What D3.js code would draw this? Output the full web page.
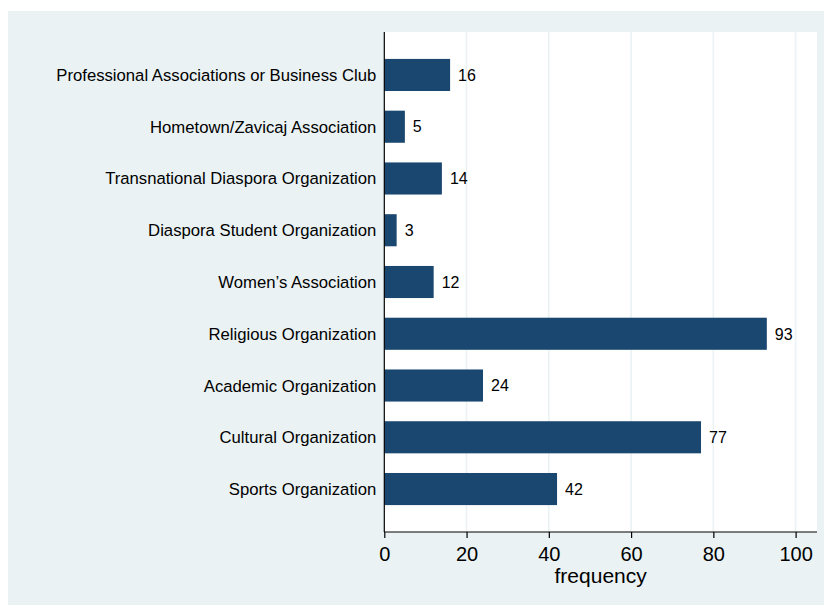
<!DOCTYPE html>
<html>
<head>
<meta charset="utf-8">
<script src="https://cdn.jsdelivr.net/npm/d3@7"></script>
<style>
  html, body { margin: 0; padding: 0; background: #ffffff; }
  svg { display: block; }
  text { font-family: "Liberation Sans", Arial, Helvetica, sans-serif; fill: #000; }
</style>
</head>
<body>
<svg id="chart" width="824" height="606"></svg>
<script>
// Membership frequency by organization type
const categories = [
  "Professional Associations or Business Club",
  "Hometown/Zavicaj Association",
  "Transnational Diaspora Organization",
  "Diaspora Student Organization",
  "Women\u2019s Association",
  "Religious Organization",
  "Academic Organization",
  "Cultural Organization",
  "Sports Organization"
];
const frequency = [16, 5, 14, 3, 12, 93, 24, 77, 42];
const xTicks = [0, 20, 40, 60, 80, 100];
const xTitle = "frequency";

const svg = d3.select("#chart");

const outer = { x0: 8, y0: 11, x1: 824, y1: 605 };
const plot = { left: 384.3, right: 817, top: 32, bottom: 532 };

const bgColor = "#eaf2f3";
const barColor = "#1a476f";

// outer graph region
svg.append("rect")
  .attr("x", outer.x0).attr("y", outer.y0)
  .attr("width", outer.x1 - outer.x0).attr("height", outer.y1 - outer.y0)
  .attr("fill", bgColor);

// plot region
svg.append("rect")
  .attr("x", plot.left).attr("y", plot.top)
  .attr("width", plot.right - plot.left).attr("height", plot.bottom - plot.top)
  .attr("fill", "#ffffff");

const x = d3.scaleLinear().domain([0, 105.2]).range([plot.left, plot.right]);
const y = d3.scaleBand().domain(categories).range([plot.top, plot.bottom])
  .paddingInner(0.38).paddingOuter(0.52);

// vertical grid lines
svg.append("g").selectAll("line")
  .data(xTicks.filter(d => d > 0))
  .join("line")
  .attr("x1", d => x(d)).attr("x2", d => x(d))
  .attr("y1", plot.top).attr("y2", plot.bottom)
  .attr("stroke", bgColor).attr("stroke-width", 1.6);

// bars
svg.append("g").selectAll("rect")
  .data(categories)
  .join("rect")
  .attr("x", x(0))
  .attr("y", d => y(d))
  .attr("width", (d, i) => x(frequency[i]) - x(0))
  .attr("height", y.bandwidth())
  .attr("fill", barColor);

// value labels
svg.append("g").selectAll("text")
  .data(categories)
  .join("text")
  .attr("x", (d, i) => x(frequency[i]) + 8)
  .attr("y", d => y(d) + y.bandwidth() / 2)
  .attr("dy", "0.36em")
  .attr("font-size", 16)
  .text((d, i) => frequency[i]);

// category labels
svg.append("g").selectAll("text")
  .data(categories)
  .join("text")
  .attr("x", plot.left - 8)
  .attr("y", d => y(d) + y.bandwidth() / 2)
  .attr("dy", "0.36em")
  .attr("text-anchor", "end")
  .attr("font-size", 16.7)
  .text(d => d);

// left axis line
svg.append("line")
  .attr("x1", plot.left).attr("x2", plot.left)
  .attr("y1", plot.top).attr("y2", plot.bottom)
  .attr("stroke", "#000").attr("stroke-width", 1.2);

// bottom axis
const xAxis = d3.axisBottom(x).tickValues(xTicks).tickSize(6).tickPadding(9);
const gx = svg.append("g")
  .attr("transform", `translate(0,${plot.bottom})`)
  .call(xAxis);
gx.select(".domain").remove();
gx.append("line")
  .attr("x1", plot.left).attr("x2", plot.right)
  .attr("y1", 0).attr("y2", 0)
  .attr("stroke", "#000").attr("stroke-width", 1.2);
gx.selectAll(".tick line").attr("stroke", "#000").attr("stroke-width", 1.2);
gx.selectAll(".tick text")
  .attr("font-size", 20)
  .attr("font-family", "'Liberation Sans', Arial, Helvetica, sans-serif")
  .attr("fill", "#000");

// axis title, centred on the plot region
svg.append("text")
  .attr("x", (plot.left + plot.right) / 2)
  .attr("y", 583)
  .attr("text-anchor", "middle")
  .attr("font-size", 21)
  .text(xTitle);
</script>
</body>
</html>
